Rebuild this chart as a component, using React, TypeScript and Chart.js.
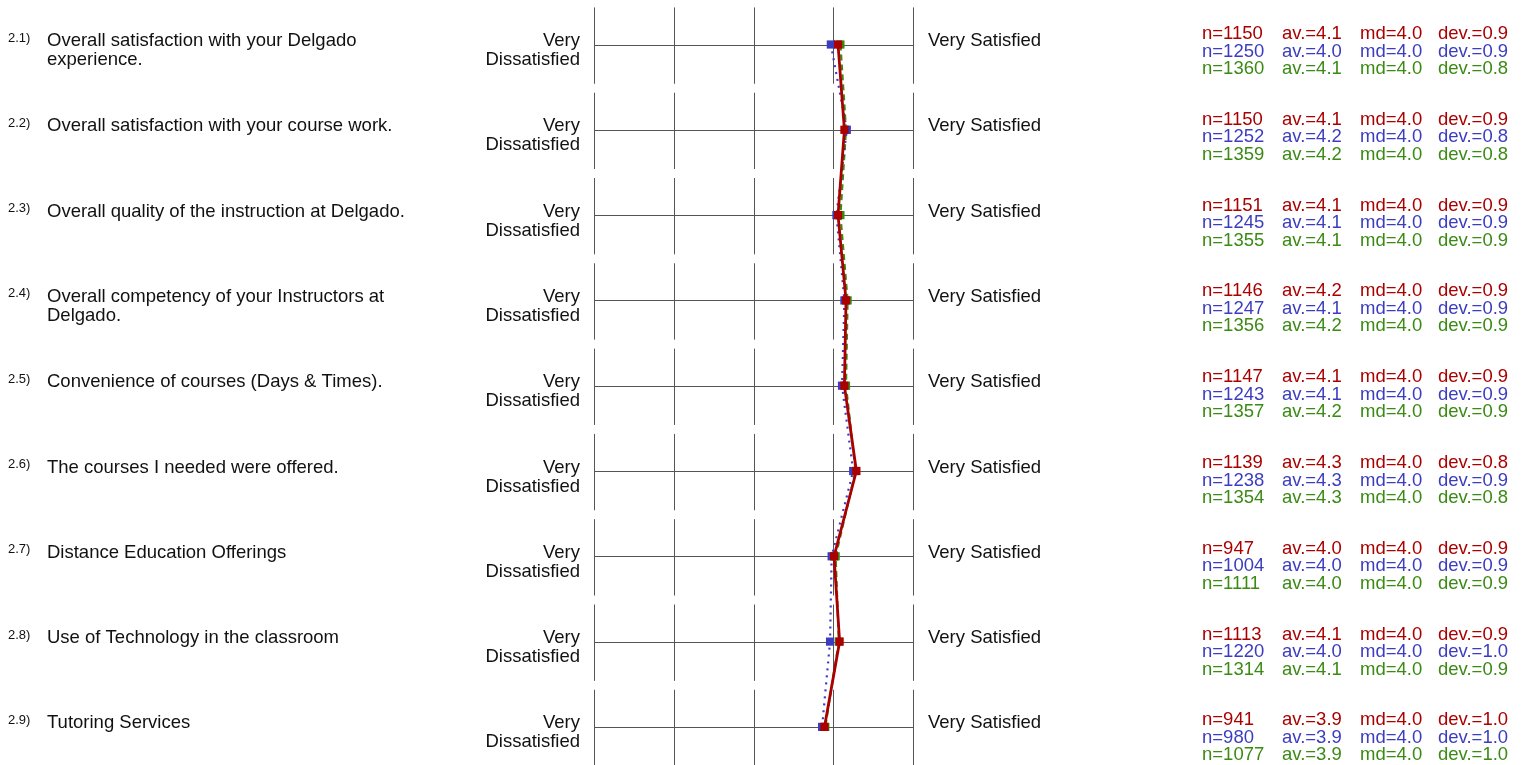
import React, { useEffect, useRef } from "react";
import { Chart, registerables } from "chart.js";

Chart.register(...registerables);

// ---- data ----
const rowNumbers = ["2.1)", "2.2)", "2.3)", "2.4)", "2.5)", "2.6)", "2.7)", "2.8)", "2.9)"];
const questions = [
  "Overall satisfaction with your Delgado experience.",
  "Overall satisfaction with your course work.",
  "Overall quality of the instruction at Delgado.",
  "Overall competency of your Instructors at Delgado.",
  "Convenience of courses (Days & Times).",
  "The courses I needed were offered.",
  "Distance Education Offerings",
  "Use of Technology in the classroom",
  "Tutoring Services",
];
const leftPoleLabel = ["Very", "Dissatisfied"];
const rightPoleLabel = "Very Satisfied";
const scalePoints = [1, 2, 3, 4, 5];

const seriesNames = ["Survey A", "Survey B", "Survey C"];

const redMeans = [4.06, 4.14, 4.06, 4.16, 4.14, 4.29, 4.01, 4.08, 3.89];
const blueMeans = [3.97, 4.17, 4.04, 4.14, 4.11, 4.25, 3.98, 3.96, 3.86];
const greenMeans = [4.09, 4.16, 4.09, 4.18, 4.16, 4.28, 4.03, 4.07, 3.9];

const redN = [1150, 1150, 1151, 1146, 1147, 1139, 947, 1113, 941];
const blueN = [1250, 1252, 1245, 1247, 1243, 1238, 1004, 1220, 980];
const greenN = [1360, 1359, 1355, 1356, 1357, 1354, 1111, 1314, 1077];

const redAv = ["4.1", "4.1", "4.1", "4.2", "4.1", "4.3", "4.0", "4.1", "3.9"];
const blueAv = ["4.0", "4.2", "4.1", "4.1", "4.1", "4.3", "4.0", "4.0", "3.9"];
const greenAv = ["4.1", "4.2", "4.1", "4.2", "4.2", "4.3", "4.0", "4.1", "3.9"];

const redMd = ["4.0", "4.0", "4.0", "4.0", "4.0", "4.0", "4.0", "4.0", "4.0"];
const blueMd = ["4.0", "4.0", "4.0", "4.0", "4.0", "4.0", "4.0", "4.0", "4.0"];
const greenMd = ["4.0", "4.0", "4.0", "4.0", "4.0", "4.0", "4.0", "4.0", "4.0"];

const redDev = ["0.9", "0.9", "0.9", "0.9", "0.9", "0.8", "0.9", "0.9", "1.0"];
const blueDev = ["0.9", "0.8", "0.9", "0.9", "0.9", "0.9", "0.9", "1.0", "1.0"];
const greenDev = ["0.8", "0.8", "0.9", "0.9", "0.9", "0.8", "0.9", "0.9", "1.0"];

// ---- styles ----
const RED = "#AA0000";
const BLUE = "#3C3CC0";
const GREEN = "#3A8A14";
const GRID = "#555555";
const FONT = '"Liberation Sans", Arial, sans-serif';

const W = 1524;
const H = 765;
const ROW_CENTER0 = 44.5;
const ROW_STEP = 85.3;

const series = [
  { name: seriesNames[0], color: RED, means: redMeans, n: redN, av: redAv, md: redMd, dev: redDev },
  { name: seriesNames[1], color: BLUE, means: blueMeans, n: blueN, av: blueAv, md: blueMd, dev: blueDev },
  { name: seriesNames[2], color: GREEN, means: greenMeans, n: greenN, av: greenAv, md: greenMd, dev: greenDev },
];

function wrapText(ctx: CanvasRenderingContext2D, text: string, maxW: number): string[] {
  const words = text.split(" ");
  const lines: string[] = [];
  let cur = "";
  for (const w of words) {
    const test = cur ? cur + " " + w : w;
    if (ctx.measureText(test).width > maxW && cur) {
      lines.push(cur);
      cur = w;
    } else {
      cur = test;
    }
  }
  if (cur) lines.push(cur);
  return lines;
}

const profilePlugin = {
  id: "profileDecor",
  beforeDatasetsDraw(chart: any) {
    const { ctx, scales } = chart;
    const x = scales.x;
    const y = scales.y;
    ctx.save();
    ctx.strokeStyle = GRID;
    ctx.lineWidth = 1;
    questions.forEach((_, i) => {
      const yc = Math.round(y.getPixelForValue(i)) + 0.5;
      const top = y.getPixelForValue(i - 0.435);
      const bot = y.getPixelForValue(i + 0.46);
      scalePoints.forEach((t) => {
        const xp = Math.round(x.getPixelForValue(t)) + 0.5;
        ctx.beginPath();
        ctx.moveTo(xp, top);
        ctx.lineTo(xp, bot);
        ctx.stroke();
      });
      ctx.beginPath();
      ctx.moveTo(x.getPixelForValue(scalePoints[0]), yc);
      ctx.lineTo(x.getPixelForValue(scalePoints[scalePoints.length - 1]), yc);
      ctx.stroke();
    });
    ctx.restore();
  },
  afterDraw(chart: any) {
    const { ctx, scales } = chart;
    const x = scales.x;
    const y = scales.y;
    const xl = x.getPixelForValue(scalePoints[0]);
    const xr = x.getPixelForValue(scalePoints[scalePoints.length - 1]);
    ctx.save();
    ctx.textBaseline = "alphabetic";
    questions.forEach((q, i) => {
      const yc = y.getPixelForValue(i);
      // number
      ctx.fillStyle = "#111";
      ctx.textAlign = "left";
      ctx.font = `13px ${FONT}`;
      ctx.fillText(rowNumbers[i], 8, yc - 3);
      // question
      ctx.font = `18.5px ${FONT}`;
      const lines = wrapText(ctx, q, 385);
      lines.forEach((ln, k) => ctx.fillText(ln, 47, yc + 1.5 + k * 19));
      // poles
      ctx.textAlign = "right";
      leftPoleLabel.forEach((ln, k) => ctx.fillText(ln, xl - 14, yc + 1.5 + k * 19));
      ctx.textAlign = "left";
      ctx.fillText(rightPoleLabel, xr + 15, yc + 1.5);
      // stats
      const mid = yc + 12 + i * 0.5;
      series.forEach((s, k) => {
        ctx.fillStyle = s.color;
        const by = mid + (k - 1) * 17.5;
        ctx.fillText(`n=${s.n[i]}`, 1202, by);
        ctx.fillText(`av.=${s.av[i]}`, 1282, by);
        ctx.fillText(`md=${s.md[i]}`, 1360, by);
        ctx.fillText(`dev.=${s.dev[i]}`, 1438, by);
      });
    });
    ctx.restore();
  },
};

export default function App() {
  const canvasRef = useRef<HTMLCanvasElement | null>(null);

  useEffect(() => {
    if (!canvasRef.current) return;
    const dashes = [[], [2, 5], [6, 4]];
    const widths = [2.8, 2.2, 2.2];
    const datasets = series.map((s, k) => ({
      label: s.name,
      data: s.means.map((m, i) => ({ x: m, y: i })),
      showLine: true,
      borderColor: s.color,
      backgroundColor: s.color,
      borderWidth: widths[k],
      borderDash: dashes[k],
      pointStyle: "rect",
      pointRadius: 5.8,
      pointBorderWidth: 0,
      pointHoverRadius: 5.8,
      tension: 0,
      clip: false,
    }));
    const minY = -ROW_CENTER0 / ROW_STEP;
    const maxY = (H - ROW_CENTER0) / ROW_STEP;
    const chart = new Chart(canvasRef.current, {
      type: "scatter",
      data: { datasets: datasets as any },
      options: {
        animation: false,
        responsive: true,
        maintainAspectRatio: false,
        layout: { autoPadding: false, padding: { left: 594, right: W - 913, top: 0, bottom: 0 } },
        plugins: { legend: { display: false }, tooltip: { enabled: false } },
        events: [],
        scales: {
          x: { type: "linear", min: 1, max: 5, display: false },
          y: { type: "linear", min: minY, max: maxY, reverse: true, display: false },
        },
      } as any,
      plugins: [profilePlugin],
    });
    return () => chart.destroy();
  }, []);

  return (
    <div style={{ position: "absolute", left: 0, top: 0, width: W, height: H, background: "#fff" }}>
      <canvas ref={canvasRef} />
    </div>
  );
}
